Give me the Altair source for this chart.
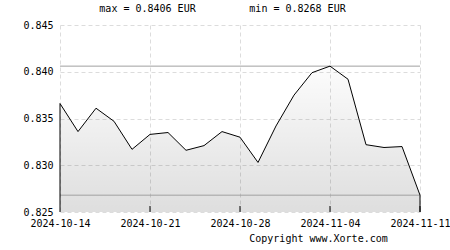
import altair as alt
import pandas as pd

# ---- data ----
dates = [
    "2024-10-14", "2024-10-15", "2024-10-16", "2024-10-17", "2024-10-18",
    "2024-10-21", "2024-10-22", "2024-10-23", "2024-10-24", "2024-10-25",
    "2024-10-28", "2024-10-29", "2024-10-30", "2024-10-31", "2024-11-01",
    "2024-11-04", "2024-11-05", "2024-11-06", "2024-11-07", "2024-11-08",
    "2024-11-11",
]
values = [
    0.8366, 0.8336, 0.8361, 0.8347, 0.8317,
    0.8333, 0.8335, 0.8316, 0.8321, 0.8336,
    0.8330, 0.8303, 0.8342, 0.8375, 0.8399,
    0.8406, 0.8392, 0.8322, 0.8319, 0.8320,
    0.8268,
]
tick_dates = ["2024-10-14", "2024-10-21", "2024-10-28", "2024-11-04", "2024-11-11"]
y_ticks = [0.825, 0.830, 0.835, 0.840, 0.845]
y_domain = [0.825, 0.845]
currency = "EUR"
copyright_text = "Copyright www.Xorte.com"

df = pd.DataFrame({"date": dates, "value": values})
vmax, vmin = max(values), min(values)

W, H = 360, 187
FONT = "DejaVu Sans Mono"
GRID = "#dcdcdc"

xscale = alt.Scale(type="point", domain=dates, padding=0)
yscale = alt.Scale(domain=y_domain, zero=False, nice=False)

x_enc = alt.X(
    "date:O", scale=xscale, title=None,
    axis=alt.Axis(values=tick_dates, labelAngle=0, ticks=False, domain=False,
                  grid=True, gridColor=GRID, gridDash=[4, 3], labelOverlap=False,
                  labelFont=FONT, labelFontSize=10, labelColor="black",
                  labelPadding=6),
)
y_enc = alt.Y(
    "value:Q", scale=yscale, title=None,
    axis=alt.Axis(values=y_ticks, format=".3f", ticks=False, domain=False,
                  grid=True, gridColor=GRID, gridDash=[4, 3],
                  labelFont=FONT, labelFontSize=10, labelColor="black",
                  labelPadding=7),
)

base = alt.Chart(df)

area = base.mark_area(
    fill=alt.Gradient(
        gradient="linear", x1=0, x2=0, y1=0, y2=1,
        stops=[alt.GradientStop(color="rgba(0,0,0,0.01)", offset=0),
               alt.GradientStop(color="rgba(0,0,0,0.13)", offset=1)],
    )
).encode(x=x_enc, y=y_enc, y2=alt.datum(y_domain[0]))

line = base.mark_line(color="black", strokeWidth=1).encode(
    x=alt.X("date:O", scale=xscale), y=alt.Y("value:Q", scale=yscale))

edges = alt.Chart(df.iloc[[0, -1]]).mark_rule(color="black", strokeWidth=1).encode(
    x=alt.X("date:O", scale=xscale), y=alt.Y("value:Q", scale=yscale),
    y2=alt.datum(y_domain[0]))

extremes = alt.Chart(pd.DataFrame({"v": [vmax, vmin]})).mark_rule(
    color="#a0a0a0", strokeWidth=1).encode(y=alt.Y("v:Q", scale=yscale))

xticks = alt.Chart(pd.DataFrame({"date": tick_dates[1:]})).mark_rule(
    color="black", strokeWidth=1).encode(
    x=alt.X("date:O", scale=xscale), y=alt.value(H - 6), y2=alt.value(H))

txt_df = pd.DataFrame({
    "t": [f"max = {vmax:.4f} {currency}", f"min = {vmin:.4f} {currency}", copyright_text],
    "px": [87.5, 237.5, 258.5],
    "py": [-16, -16, 213.5],
})
texts = alt.Chart(txt_df).mark_text(
    font=FONT, fontSize=10, color="black", align="center", baseline="middle"
).encode(text="t:N", x=alt.X("px:Q", scale=None), y=alt.Y("py:Q", scale=None))

chart = alt.layer(area, extremes, line, edges, xticks, texts).properties(
    width=W, height=H,
    autosize=alt.AutoSizeParams(type="none"),
    padding={"left": 60, "top": 25, "right": 30, "bottom": 38},
    background="white",
).configure_view(stroke=None)

chart.save("out.html", embed_options={"renderer": "svg", "actions": False})
